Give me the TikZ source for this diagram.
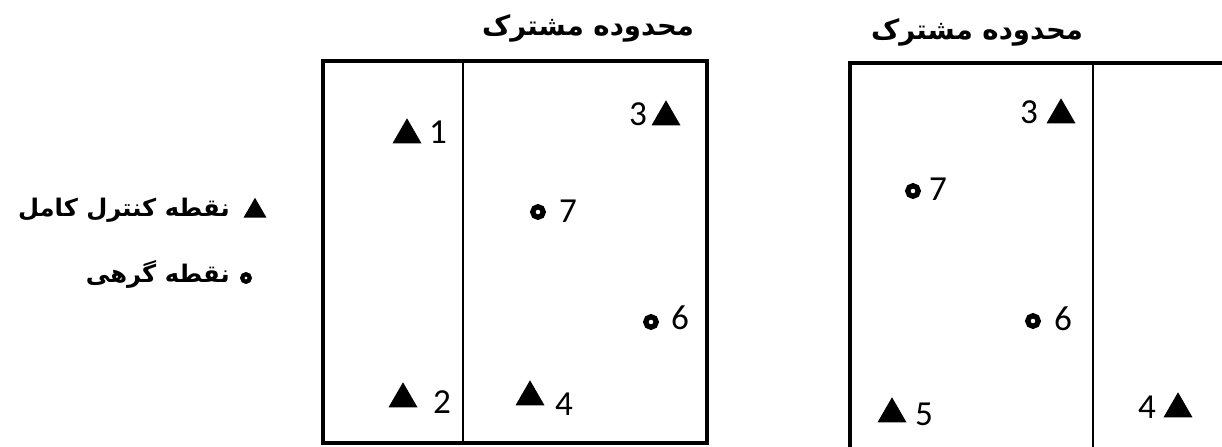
\documentclass[tikz,border=0pt]{standalone}
\usepackage{fontspec}
\usetikzlibrary{shapes.geometric}
\TeXXeTstate=1
\newfontfamily\arabicfont[Script=Arabic]{DejaVu Sans}
\newfontfamily\numfont{Carlito}
\begin{document}
\begin{tikzpicture}[x=0.02cm,y=-0.02cm,
  tri/.style={regular polygon, regular polygon sides=3, fill=black, draw=none, inner sep=0pt, minimum size=0.67cm},
  smalltri/.style={tri, minimum size=0.53cm},
  knot/.style={circle, draw=black, line width=3pt, fill=white, inner sep=0pt, minimum size=0.21cm},
  smallknot/.style={knot, line width=2.4pt, minimum size=0.15cm},
  num/.style={font=\numfont\fontsize{20}{20}\selectfont, inner sep=0pt, anchor=base},
  title/.style={font=\arabicfont\bfseries\fontsize{15.7}{16}\selectfont, inner sep=0pt, anchor=base},
  legend/.style={font=\arabicfont\bfseries\fontsize{13.8}{14}\selectfont, inner sep=0pt, anchor=base east},
  outer/.style={line width=1.8pt},
  divider/.style={line width=0.9pt}]
\useasboundingbox (0,0) rectangle (1222,446);
\clip (0,0) rectangle (1222,446);
\fill[white] (0,0) rectangle (1222,446);

% legend
\node[smalltri] (lt) at (255,211) {};
\node[legend] (ltx) at (230,216) {\beginR نقطه کنترل کامل\endR};
\node[smallknot] (lc) at (246,278) {};
\node[legend] (lcx) at (230,282) {\beginR نقطه گرهی\endR};

% left box
\draw[outer] (323,61) rectangle (707,443);
\draw[divider] (463,61) -- (463,443);
\node[title] (t1) at (588,36) {\beginR محدوده مشترک\endR};

\node[tri] (p1) at (407,135) {};
\node[num] (n1) at (438,143) {1};
\node[tri] (p3) at (666,117) {};
\node[num] (n3) at (638,125) {3};
\node[knot] (p7) at (538,212) {};
\node[num] (n7) at (568,222) {7};
\node[knot] (p6) at (651,322) {};
\node[num] (n6) at (680,329) {6};
\node[tri] (p2) at (403,399) {};
\node[num] (n2) at (442,413) {2};
\node[tri] (p4) at (530,397) {};
\node[num] (n4) at (564,415) {4};

% right box
\draw[outer] (850,63) rectangle (1260,460);
\draw[divider] (1093,63) -- (1093,460);
\node[title] (t2) at (977,40) {\beginR محدوده مشترک\endR};

\node[tri] (q3) at (1061,115) {};
\node[num] (m3) at (1029,123) {3};
\node[knot] (q7) at (913,191) {};
\node[num] (m7) at (938,200) {7};
\node[knot] (q6) at (1033,321) {};
\node[num] (m6) at (1063,330) {6};
\node[tri] (q5) at (892,414) {};
\node[num] (m5) at (924,425) {5};
\node[tri] (q4) at (1178,409) {};
\node[num] (m4) at (1147,418) {4};
\end{tikzpicture}
\end{document}
